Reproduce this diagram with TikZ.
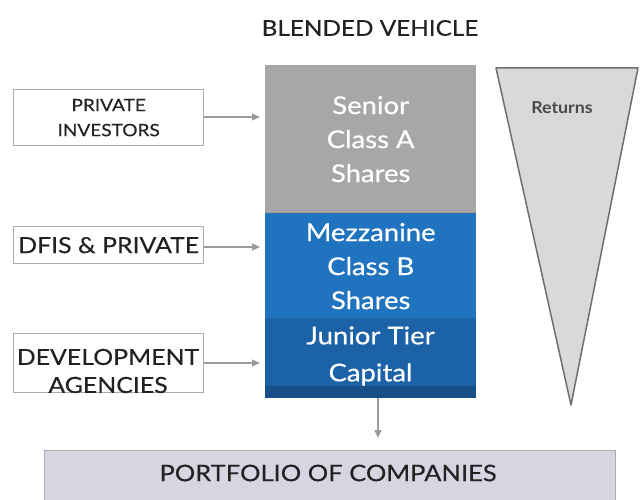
\documentclass[tikz,border=0pt]{standalone}
\usepackage{fontspec}
\setmainfont{Lato}
\newfontfamily\medfont[FakeBold=0.5,FakeStretch=1.12]{Lato}
\newfontfamily\semifont[FakeBold=0.25,FakeStretch=1.12]{Lato}
\newfontfamily\retfont[FakeStretch=1.08]{Lato Bold}
\usetikzlibrary{arrows.meta}
\definecolor{boxline}{HTML}{ABABAB}
\definecolor{arrowc}{HTML}{9A9A9A}
\definecolor{seniorc}{HTML}{A7A7A7}
\definecolor{mezzc}{HTML}{2073BF}
\definecolor{juniorc}{HTML}{1B62A7}
\definecolor{stripc}{HTML}{174F88}
\definecolor{portc}{HTML}{D9D4E1}
\definecolor{trifill}{HTML}{D9D9D9}
\definecolor{tritext}{HTML}{4A4A4A}
\definecolor{txt}{HTML}{222222}
\tikzset{
  srcbox/.style={draw=boxline, line width=1.3pt, fill=white, minimum width=190pt, inner sep=0pt, anchor=north west, text=txt, align=center},
  tier/.style={inner sep=0pt, anchor=north west, minimum width=211pt, text=white, align=center, font=\medfont\fontsize{24.5}{34}\selectfont},
  feed/.style={draw=arrowc, line width=1.1pt, -{Triangle[length=8pt,width=7pt]}},
}
\begin{document}
\begin{tikzpicture}[x=1pt,y=-1pt]
\useasboundingbox (0,0) rectangle (641,500);
% title
\node[text=txt, font=\semifont\fontsize{21.7}{26}\selectfont] (title) at (370,28) {BLENDED VEHICLE};
% stack
\node[tier, fill=seniorc, minimum height=148pt] (senior) at (265,65) {Senior\\Class A\\Shares};
\node[tier, fill=mezzc, minimum height=106pt] (mezz) at (265,213) {Mezzanine\\Class B\\Shares};
\node[tier, fill=juniorc, minimum height=80pt] (junior) at (265,318) {};
\fill[stripc] (265,386) rectangle (476,398);
\node[text=white, align=center, font=\medfont\fontsize{24.5}{37}\selectfont] (juniortxt) at (370.5,356) {Junior Tier\\Capital};
\draw[color=seniorc!70!brown, line width=1pt] (265,213) -- (476,213);
% source boxes
\node[srcbox, minimum height=56pt, font=\semifont\fontsize{17}{25}\selectfont] (pi) at (13,89) {PRIVATE\\INVESTORS};
\node[srcbox, minimum height=37pt, font=\semifont\fontsize{22.2}{26}\selectfont] (dfis) at (13,226) {DFIS \& PRIVATE};
\node[srcbox, minimum height=59pt] (dev) at (13,333) {};
\node[text=txt, align=center, font=\semifont\fontsize{22.2}{28}\selectfont] (devtxt) at (108,371) {DEVELOPMENT\\AGENCIES};
% arrows
\coordinate (piend) at (260,117);
\coordinate (dfisend) at (260,247);
\coordinate (devend) at (260,363);
\draw[feed] (pi.east |- piend) -- (piend);
\draw[feed] (dfis.east |- dfisend) -- (dfisend);
\draw[feed] (dev.east |- devend) -- (devend);
% portfolio
\node[draw=boxline, line width=1.3pt, fill=portc, minimum width=571pt, minimum height=54pt, anchor=north west, inner sep=0pt] (port) at (44,450) {};
\node[text=txt, font=\semifont\fontsize{22.8}{26}\selectfont] (porttxt) at (328,473) {PORTFOLIO OF COMPANIES};
\coordinate (stackbot) at (378,398);
\draw[feed] (stackbot) -- (378,438);
% returns triangle
\draw[fill=trifill, draw=tritext!80, line width=1.5pt, line join=round] (496,68) coordinate (ta) -- (638,68) coordinate (tb) -- (571,405) coordinate (tc) -- cycle;
\node[text=tritext, font=\retfont\fontsize{16.5}{20}\selectfont] (ret) at (562,108) {Returns};
\end{tikzpicture}
\end{document}
